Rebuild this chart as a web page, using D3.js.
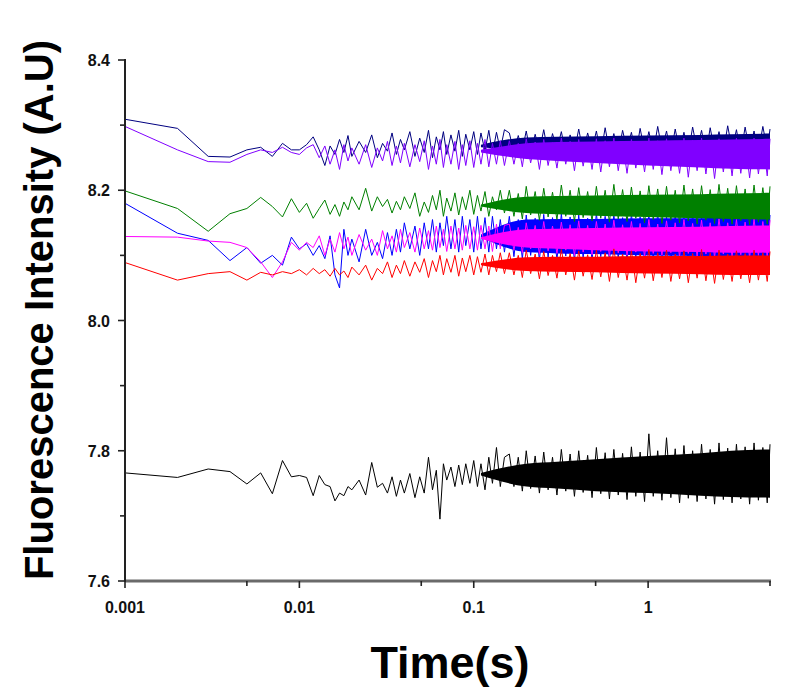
<!DOCTYPE html>
<html>
<head>
<meta charset="utf-8">
<script src="https://cdn.jsdelivr.net/npm/d3@7"></script>
<style>
  html, body { margin: 0; padding: 0; background: #fff; }
  svg { display: block; }
</style>
</head>
<body>
<svg id="chart" width="800" height="700"></svg>
<script>
// ---- Data (time in ms) ----
// sparse early samples
const earlyTimes = [1,2,3,4,5,6,7,8,9,10,11,12,13,14,15,16,17,18,19,20,
  22,24,26,28,30,32,34,36,38,40,43,46,49,52,55,58,61,64,67,70,
  74,78,82,86,90,95,100,105,110,116,122,128,135,142,150];
// dense late samples (peaks / troughs of the noisy traces)
const lateTimes = [160,170,180,190,200,212,225,238,252,267,
  283,300,318,337,357,378,400,424,450,477,
  505,535,567,600,636,674,714,757,802,850,
  900,954,1010,1070,1135,1200,1275,1350,1430,1515,
  1605,1700,1800,1910,2025,2145,2270,2405,2550,2700,
  2860,3030,3210,3400,3600,3820,4050,4290,4550,4820,5000];

const navyEarly = [8.309,8.295,8.252,8.251,8.262,8.266,8.252,8.272,8.262,8.262,8.270,8.282,
  8.262,8.238,8.268,8.255,8.278,8.258,8.284,8.252,
  8.275,8.258,8.285,8.25,8.272,8.26,8.288,8.255,8.278,8.262,
  8.29,8.252,8.28,8.258,8.292,8.25,8.282,8.262,8.29,8.255,
  8.285,8.26,8.292,8.252,8.286,8.262,8.29,8.255,8.288,
  8.26,8.292,8.256,8.289,8.262,8.293];
const navyLate = [8.288,8.258,8.284,8.262,8.291,8.255,8.286,8.26,8.293,8.257,
  8.287,8.262,8.29,8.256,8.285,8.26,8.294,8.258,8.288,8.262,
  8.291,8.255,8.296,8.26,8.287,8.257,8.292,8.262,8.289,8.255,
  8.295,8.26,8.29,8.258,8.298,8.262,8.291,8.256,8.294,8.26,
  8.289,8.257,8.297,8.262,8.292,8.255,8.296,8.26,8.29,8.258,
  8.299,8.262,8.293,8.256,8.297,8.26,8.291,8.258,8.298,8.262,8.294];

const purpleEarly = [8.298,8.262,8.244,8.243,8.255,8.262,8.258,8.266,8.258,8.255,8.265,8.27,
  8.25,8.268,8.24,8.262,8.232,8.27,8.245,8.265,
  8.24,8.27,8.235,8.265,8.245,8.275,8.238,8.268,8.242,8.272,
  8.236,8.27,8.244,8.276,8.232,8.268,8.24,8.278,8.235,8.27,
  8.24,8.275,8.232,8.27,8.238,8.276,8.235,8.272,8.24,
  8.278,8.236,8.272,8.24,8.276,8.238];
const purpleLate = [8.276,8.24,8.272,8.236,8.279,8.242,8.274,8.232,8.278,8.238,
  8.273,8.234,8.28,8.24,8.275,8.23,8.278,8.237,8.274,8.232,
  8.279,8.228,8.276,8.236,8.28,8.23,8.274,8.226,8.278,8.234,
  8.275,8.228,8.28,8.232,8.276,8.224,8.279,8.23,8.275,8.226,
  8.28,8.22,8.277,8.23,8.28,8.225,8.276,8.218,8.279,8.228,
  8.276,8.222,8.28,8.226,8.277,8.219,8.28,8.225,8.276,8.222,8.279];

const greenEarly = [8.199,8.172,8.137,8.164,8.172,8.189,8.175,8.159,8.187,8.166,8.18,8.157,
  8.172,8.185,8.163,8.178,8.16,8.182,8.17,8.19,
  8.17,8.203,8.168,8.19,8.175,8.186,8.165,8.183,8.17,8.19,
  8.172,8.196,8.16,8.182,8.166,8.192,8.17,8.2,8.16,8.188,
  8.168,8.196,8.162,8.19,8.17,8.2,8.163,8.192,8.168,
  8.198,8.16,8.19,8.17,8.2,8.165];
const greenLate = [8.2,8.16,8.195,8.156,8.206,8.162,8.198,8.154,8.203,8.159,
  8.197,8.155,8.208,8.16,8.2,8.152,8.204,8.158,8.198,8.153,
  8.206,8.157,8.2,8.151,8.209,8.156,8.201,8.152,8.205,8.157,
  8.199,8.15,8.207,8.155,8.202,8.149,8.206,8.154,8.2,8.15,
  8.208,8.153,8.202,8.148,8.207,8.154,8.201,8.149,8.209,8.152,
  8.203,8.148,8.207,8.153,8.202,8.147,8.208,8.151,8.204,8.148,8.206];

const blueEarly = [8.18,8.134,8.123,8.092,8.112,8.088,8.1,8.085,8.128,8.11,8.118,8.1,
  8.115,8.095,8.13,8.07,8.05,8.14,8.1,8.125,
  8.09,8.14,8.1,8.12,8.095,8.135,8.1,8.14,8.105,8.15,
  8.11,8.145,8.1,8.15,8.11,8.155,8.105,8.15,8.115,8.16,
  8.11,8.155,8.105,8.16,8.115,8.155,8.105,8.16,8.11,
  8.158,8.105,8.16,8.11,8.155,8.105];
const blueLate = [8.16,8.098,8.155,8.094,8.162,8.1,8.157,8.092,8.163,8.097,
  8.158,8.093,8.164,8.099,8.159,8.091,8.162,8.096,8.157,8.092,
  8.165,8.098,8.16,8.09,8.163,8.095,8.158,8.091,8.164,8.097,
  8.159,8.09,8.162,8.094,8.165,8.092,8.16,8.089,8.163,8.095,
  8.158,8.09,8.164,8.093,8.161,8.089,8.165,8.094,8.16,8.09,
  8.163,8.092,8.159,8.089,8.164,8.093,8.161,8.09,8.165,8.092,8.162];

const magentaEarly = [8.129,8.128,8.122,8.12,8.112,8.09,8.066,8.09,8.12,8.108,8.12,8.112,
  8.13,8.1,8.125,8.105,8.135,8.11,8.128,8.1,
  8.132,8.108,8.125,8.1,8.138,8.11,8.13,8.105,8.14,8.112,
  8.135,8.105,8.142,8.11,8.138,8.108,8.145,8.112,8.14,8.106,
  8.145,8.11,8.142,8.108,8.146,8.11,8.144,8.108,8.146,
  8.11,8.145,8.106,8.148,8.11,8.146];
const magentaLate = [8.148,8.108,8.143,8.104,8.15,8.11,8.146,8.102,8.152,8.107,
  8.145,8.103,8.151,8.108,8.147,8.1,8.153,8.105,8.146,8.101,
  8.152,8.106,8.148,8.099,8.154,8.104,8.147,8.1,8.152,8.105,
  8.149,8.098,8.155,8.103,8.148,8.1,8.153,8.104,8.15,8.098,
  8.155,8.103,8.149,8.099,8.154,8.102,8.15,8.097,8.156,8.102,
  8.15,8.098,8.155,8.101,8.151,8.097,8.156,8.1,8.152,8.098,8.154];

const redEarly = [8.089,8.062,8.072,8.075,8.062,8.074,8.07,8.075,8.072,8.078,8.07,8.08,
  8.072,8.078,8.068,8.08,8.07,8.076,8.066,8.082,
  8.07,8.085,8.062,8.08,8.072,8.09,8.066,8.085,8.072,8.092,
  8.068,8.09,8.074,8.095,8.066,8.092,8.075,8.1,8.07,8.095,
  8.074,8.1,8.068,8.096,8.075,8.1,8.07,8.098,8.074,
  8.102,8.07,8.1,8.075,8.104,8.072];
const redLate = [8.104,8.07,8.1,8.066,8.108,8.072,8.102,8.064,8.106,8.069,
  8.1,8.065,8.109,8.07,8.103,8.062,8.107,8.068,8.101,8.063,
  8.108,8.067,8.104,8.06,8.11,8.066,8.102,8.062,8.107,8.058,
  8.103,8.065,8.109,8.061,8.104,8.066,8.108,8.06,8.102,8.064,
  8.107,8.058,8.103,8.065,8.109,8.061,8.104,8.057,8.108,8.063,
  8.102,8.06,8.107,8.064,8.103,8.058,8.108,8.062,8.104,8.06,8.106];

const blackEarly = [7.766,7.759,7.772,7.768,7.749,7.766,7.734,7.785,7.76,7.762,7.759,7.731,
  7.762,7.748,7.745,7.723,7.735,7.731,7.745,7.74,
  7.755,7.732,7.782,7.744,7.75,7.735,7.76,7.73,7.755,7.735,
  7.765,7.728,7.76,7.735,7.79,7.74,7.77,7.695,7.78,7.755,
  7.775,7.745,7.778,7.748,7.78,7.75,7.785,7.745,7.78,
  7.74,7.79,7.75,7.805,7.745,7.79];
const blackLate = [7.795,7.745,7.79,7.738,7.8,7.742,7.792,7.735,7.798,7.74,
  7.79,7.732,7.802,7.738,7.795,7.73,7.8,7.736,7.793,7.728,
  7.805,7.734,7.797,7.726,7.802,7.732,7.796,7.725,7.806,7.73,
  7.798,7.722,7.826,7.73,7.8,7.724,7.82,7.728,7.803,7.72,
  7.808,7.727,7.8,7.722,7.81,7.726,7.802,7.718,7.812,7.725,
  7.804,7.72,7.81,7.726,7.806,7.718,7.812,7.724,7.805,7.72,7.81];

// solid core of each dense band (tapers in from ~0.1 s)
const coreTimes = [110, 200, 300, 500, 1000, 2000, 3000, 5000];
const navyCoreHigh = [8.27,8.281,8.282,8.283,8.284,8.285,8.286,8.287];
const navyCoreLow = [8.266,8.262,8.262,8.262,8.262,8.262,8.262,8.262];
const purpleCoreHigh = [8.262,8.272,8.274,8.275,8.276,8.277,8.278,8.279];
const purpleCoreLow = [8.258,8.248,8.245,8.242,8.238,8.235,8.233,8.232];
const greenCoreHigh = [8.178,8.19,8.191,8.192,8.193,8.194,8.195,8.196];
const greenCoreLow = [8.175,8.165,8.163,8.161,8.159,8.157,8.156,8.155];
const blueCoreHigh = [8.132,8.155,8.156,8.156,8.157,8.157,8.158,8.158];
const blueCoreLow = [8.128,8.105,8.103,8.102,8.1,8.099,8.098,8.097];
const magentaCoreHigh = [8.128,8.14,8.141,8.142,8.143,8.144,8.145,8.146];
const magentaCoreLow = [8.125,8.112,8.11,8.108,8.106,8.105,8.104,8.104];
const redCoreHigh = [8.088,8.097,8.098,8.098,8.099,8.099,8.1,8.1];
const redCoreLow = [8.085,8.076,8.075,8.074,8.072,8.071,8.07,8.07];
const blackCoreHigh = [7.766,7.78,7.783,7.787,7.792,7.796,7.8,7.802];
const blackCoreLow = [7.762,7.745,7.742,7.738,7.735,7.731,7.729,7.728];

const xTickValues = [1, 10, 100, 1000];
const xTickLabels = ["0.001", "0.01", "0.1", "1"];
const xMinorTicks = [5, 50, 500, 5000];
const yTickValues = [7.6, 7.8, 8.0, 8.2, 8.4];
const yTickLabels = ["7.6", "7.8", "8.0", "8.2", "8.4"];
const yMinorTicks = [7.7, 7.9, 8.1, 8.3];

// draw order: first = bottom
const series = [
  {color: "#000080", early: navyEarly, late: navyLate, hi: navyCoreHigh, lo: navyCoreLow},
  {color: "#8000ff", early: purpleEarly, late: purpleLate, hi: purpleCoreHigh, lo: purpleCoreLow},
  {color: "#0000ff", early: blueEarly, late: blueLate, hi: blueCoreHigh, lo: blueCoreLow},
  {color: "#ff00ff", early: magentaEarly, late: magentaLate, hi: magentaCoreHigh, lo: magentaCoreLow},
  {color: "#ff0000", early: redEarly, late: redLate, hi: redCoreHigh, lo: redCoreLow},
  {color: "#008000", early: greenEarly, late: greenLate, hi: greenCoreHigh, lo: greenCoreLow},
  {color: "#000000", early: blackEarly, late: blackLate, hi: blackCoreHigh, lo: blackCoreLow}
];

// ---- Layout ----
const svg = d3.select("#chart");
const x = d3.scaleLog().domain([1, 5000]).range([125, 770]);
const y = d3.scaleLinear().domain([7.6, 8.4]).range([581, 60]);

const allTimes = earlyTimes.concat(lateTimes);
const plot = svg.append("g");
const lineGen = d3.line().x((d, i) => x(allTimes[i])).y(d => y(d));

series.forEach(s => {
  const area = d3.area()
    .x((d, i) => x(coreTimes[i]))
    .y0((d, i) => y(s.lo[i]))
    .y1((d, i) => y(s.hi[i]))
    .curve(d3.curveMonotoneX);
  plot.append("path")
    .attr("d", area(coreTimes))
    .attr("fill", s.color)
    .attr("stroke", "none");
  plot.append("path")
    .attr("d", lineGen(s.early.concat(s.late)))
    .attr("fill", "none")
    .attr("stroke", s.color)
    .attr("stroke-width", 1)
    .attr("stroke-linejoin", "miter");
});

// ---- Axes ----
const font = "'Liberation Sans', Arial, sans-serif";
const xAxis = svg.append("g").attr("transform", "translate(0,581)");
xAxis.append("line").attr("x1", 125).attr("x2", 771).attr("y1", 0).attr("y2", 0)
  .attr("stroke", "#6a6a6a").attr("stroke-width", 3);
xAxis.selectAll(".xt").data(xTickValues).enter().append("line")
  .attr("x1", d => x(d)).attr("x2", d => x(d)).attr("y1", 0).attr("y2", 7)
  .attr("stroke", "#222").attr("stroke-width", 1.6);
xAxis.selectAll(".xm").data(xMinorTicks).enter().append("line")
  .attr("x1", d => x(d)).attr("x2", d => x(d)).attr("y1", 0).attr("y2", 5)
  .attr("stroke", "#222").attr("stroke-width", 1.6);
xAxis.selectAll(".xl").data(xTickValues).enter().append("text")
  .attr("x", d => x(d)).attr("y", 32)
  .attr("text-anchor", "middle")
  .attr("font-family", font).attr("font-weight", "bold").attr("font-size", 16)
  .attr("fill", "#111")
  .text((d, i) => xTickLabels[i]);

const yAxis = svg.append("g");
yAxis.append("line").attr("x1", 125).attr("x2", 125).attr("y1", 59).attr("y2", 582)
  .attr("stroke", "#222").attr("stroke-width", 2);
yAxis.selectAll(".yt").data(yTickValues).enter().append("line")
  .attr("x1", 118).attr("x2", 125).attr("y1", d => y(d)).attr("y2", d => y(d))
  .attr("stroke", "#222").attr("stroke-width", 1.6);
yAxis.selectAll(".ym").data(yMinorTicks).enter().append("line")
  .attr("x1", 120).attr("x2", 125).attr("y1", d => y(d)).attr("y2", d => y(d))
  .attr("stroke", "#222").attr("stroke-width", 1.6);
yAxis.selectAll(".yl").data(yTickValues).enter().append("text")
  .attr("x", 110).attr("y", d => y(d) + 6)
  .attr("text-anchor", "end")
  .attr("font-family", font).attr("font-weight", "bold").attr("font-size", 16)
  .attr("fill", "#111")
  .text((d, i) => yTickLabels[i]);

// ---- Titles ----
svg.append("text")
  .attr("transform", "translate(53,310) rotate(-90)")
  .attr("text-anchor", "middle")
  .attr("font-family", font).attr("font-weight", "bold").attr("font-size", 40)
  .attr("fill", "#000")
  .text("Fluorescence Intensity (A.U)");
svg.append("text")
  .attr("x", 450).attr("y", 678)
  .attr("text-anchor", "middle")
  .attr("font-family", font).attr("font-weight", "bold").attr("font-size", 45)
  .attr("fill", "#000")
  .text("Time(s)");
</script>
</body>
</html>
